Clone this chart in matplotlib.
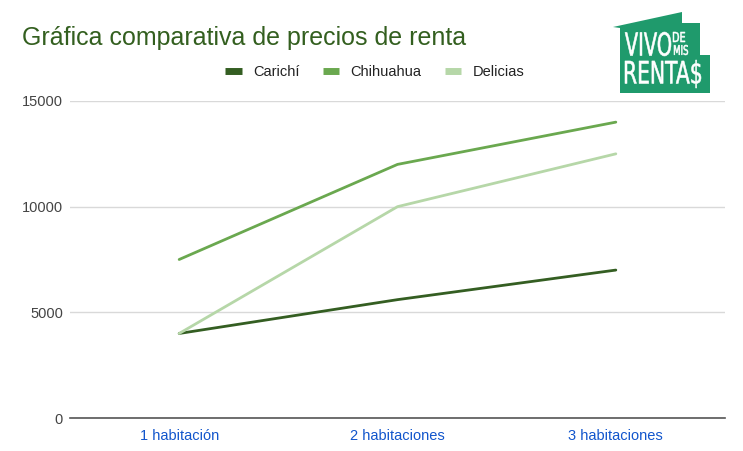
import matplotlib.pyplot as plt
import numpy as np
from matplotlib.patches import Polygon, PathPatch
from matplotlib.textpath import TextPath
from matplotlib.font_manager import FontProperties
from matplotlib.transforms import Affine2D

plt.rcParams['font.family'] = ['Liberation Sans', 'DejaVu Sans']

categorias = ['1 habitación', '2 habitaciones', '3 habitaciones']
carichi = [4000, 5600, 7000]
chihuahua = [7500, 12000, 14000]
delicias = [4000, 10000, 12500]

W, H = 743, 451
fig = plt.figure(figsize=(W/100, H/100), dpi=100)
ax = fig.add_axes([70/W, 33/H, 655/W, 317/H])

x = np.arange(len(categorias))
ax.plot(x, carichi, color='#345e22', lw=2, label='Carichí', solid_capstyle='round')
ax.plot(x, chihuahua, color='#6aa84f', lw=2, label='Chihuahua', solid_capstyle='round')
ax.plot(x, delicias, color='#b6d7a8', lw=2, label='Delicias', solid_capstyle='round')

ax.set_xlim(-0.5, 2.5)
ax.set_ylim(0, 15000)
ax.set_yticks([0, 5000, 10000, 15000])
ax.set_xticks(x)
ax.set_xticklabels(categorias, color='#1155cc', fontsize=10.5)
ax.tick_params(axis='y', length=0, pad=5, labelsize=10.5, labelcolor='#444444')
ax.tick_params(axis='x', length=0, pad=8)
ax.grid(axis='y', color='#d9d9d9', lw=1)
ax.set_axisbelow(True)
for s in ['top', 'right', 'left']:
    ax.spines[s].set_visible(False)
ax.spines['bottom'].set_color('#555555')
ax.spines['bottom'].set_linewidth(1.2)

fig.text(22/W, 1 - 45/H, 'Gráfica comparativa de precios de renta',
         fontsize=18, color='#335f1f', va='baseline')

ax.legend(loc='center', bbox_to_anchor=(375/W, 1 - 72/H), bbox_transform=fig.transFigure,
          ncol=3, frameon=False, fontsize=10.5, handlelength=1.1, handletextpad=0.8,
          columnspacing=1.6, labelcolor='#222222')
for h in ax.get_legend().get_lines():
    h.set_linewidth(5)
    h.set_solid_capstyle('butt')

# logo
def px(p):
    return (p[0]/W, 1 - p[1]/H)

logo_col = '#1f9a6c'
casa = [(613, 27), (682, 12), (682, 23), (700, 23), (700, 55), (710, 55),
        (710, 93), (620, 93), (620, 28)]
fig.patches.append(Polygon([px(p) for p in casa], closed=True, transform=fig.transFigure,
                           facecolor=logo_col, edgecolor='none'))

fp = FontProperties(family='DejaVu Sans')

def caja(txt, x0, y0, x1, y1):
    tp = TextPath((0, 0), txt, size=10, prop=fp)
    bb = tp.get_extents()
    sx = (x1 - x0)/W/bb.width
    sy = (y1 - y0)/H/bb.height
    tr = Affine2D().translate(-bb.x0, -bb.y0).scale(sx, sy).translate(x0/W, 1 - y1/H)
    fig.patches.append(PathPatch(tr.transform_path(tp), transform=fig.transFigure,
                                 facecolor='white', edgecolor='white', lw=0.4))

caja('VIVO', 625, 32, 671, 56)
caja('DE', 673, 32, 685, 42)
caja('MIS', 674, 45, 688, 55)
caja('RENTA$', 625, 60, 701, 88)

fig.savefig('out.png', dpi=100)
